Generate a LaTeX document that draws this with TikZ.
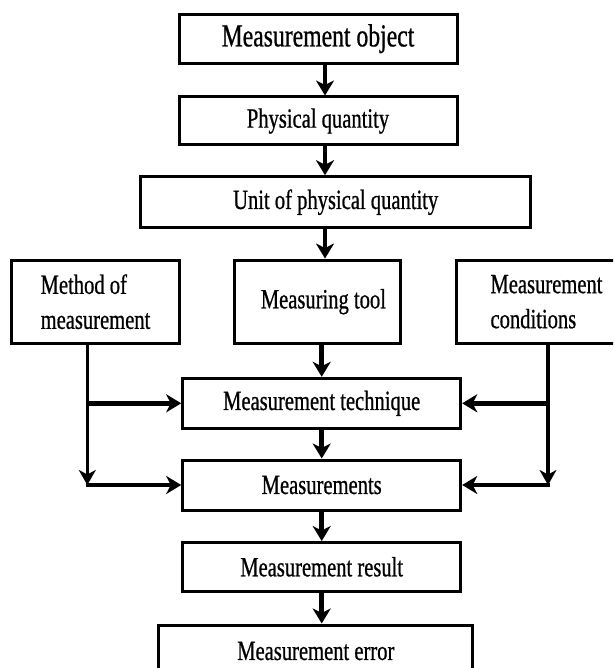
\documentclass[tikz,border=0pt]{standalone}
\usepackage{fontspec}
\setmainfont{Liberation Serif}[FakeStretch=0.74, FakeBold=0.7]
\usepackage{tikz}
\usetikzlibrary{arrows.meta,calc}

\begin{document}
\begin{tikzpicture}[x=1pt, y=-1pt,
    box/.style={draw, line width=3pt, rectangle, inner sep=0pt,
        font=\fontsize{27.8}{35}\selectfont},
    sidebox/.style={box, align=left},
    arr/.style={line width=4.8pt, -{Stealth[length=15pt, width=18pt, inset=4.5pt]}},
    feed/.style={line width=3.2pt, -{Stealth[length=15pt, width=17pt, inset=4.5pt]}}]
    \useasboundingbox (0,0) rectangle (613,668);
    \clip (0,0) rectangle (613,668);

    % Main chain of boxes
    \node[box, minimum width=278pt, minimum height=49pt,
        font=\fontsize{32}{36}\selectfont] (obj) at (318,38.7) {Measurement object};
    \node[box, minimum width=278pt, minimum height=48pt] (phys) at (318,121) {Physical quantity};
    \node[box, minimum width=390pt, minimum height=51pt] (unit) at (335.7,202.2) {Unit of physical quantity};

    % Row of three inputs
    \node[sidebox, minimum width=167.6pt, minimum height=83.3pt] (method) at (95.5,301.7) {Method of\\measurement};
    \node[box, minimum width=166.7pt, minimum height=83.3pt] (tool) at (317.4,301.7) {\hspace{12pt}Measuring tool};
    \node[sidebox, minimum width=180pt, minimum height=83.3pt] (cond) at (546.5,301.7) {Measurement\\conditions};

    % Lower chain
    \node[box, minimum width=278pt, minimum height=50pt] (tech) at (321.7,403.3) {Measurement technique};
    \node[box, minimum width=278pt, minimum height=50pt] (meas) at (321.7,485) {Measurements};
    \node[box, minimum width=278pt, minimum height=48.5pt] (result) at (321.7,566.8) {Measurement result};
    \node[box, minimum width=313.7pt, minimum height=52pt] (error) at (315.8,651) {Measurement error};

    % Bus lines of the side boxes
    \coordinate (spine) at (325,0);
    \coordinate (lbus) at (87.3,0);
    \coordinate (rbus) at (548,0);

    % Arrows down the middle
    \draw[arr] (obj.south -| spine) -- (phys.north -| spine);
    \draw[arr] (phys.south -| spine) -- (unit.north -| spine);
    \draw[arr] (unit.south -| spine) -- (tool.north -| spine);
    \draw[arr] (tool.south -| tech.north) -- (tech.north);
    \draw[arr] (tech) -- (meas);
    \draw[arr] (meas) -- (result);
    \draw[arr] (result.south) -- (result.south |- error.north);

    % Left side feeds
    \draw[feed] (method.south -| lbus) -- (lbus |- meas.west);
    \draw[arr] ($(lbus |- tech.west)+(-1.5,0)$) -- (tech.west);
    \draw[arr] ($(lbus |- meas.west)+(-1.5,0)$) -- (meas.west);

    % Right side feeds
    \draw[feed] (cond.south -| rbus) -- (rbus |- meas.east);
    \draw[arr] ($(rbus |- tech.east)+(1.5,0)$) -- (tech.east);
    \draw[arr] ($(rbus |- meas.east)+(1.5,0)$) -- (meas.east);
\end{tikzpicture}
\end{document}
